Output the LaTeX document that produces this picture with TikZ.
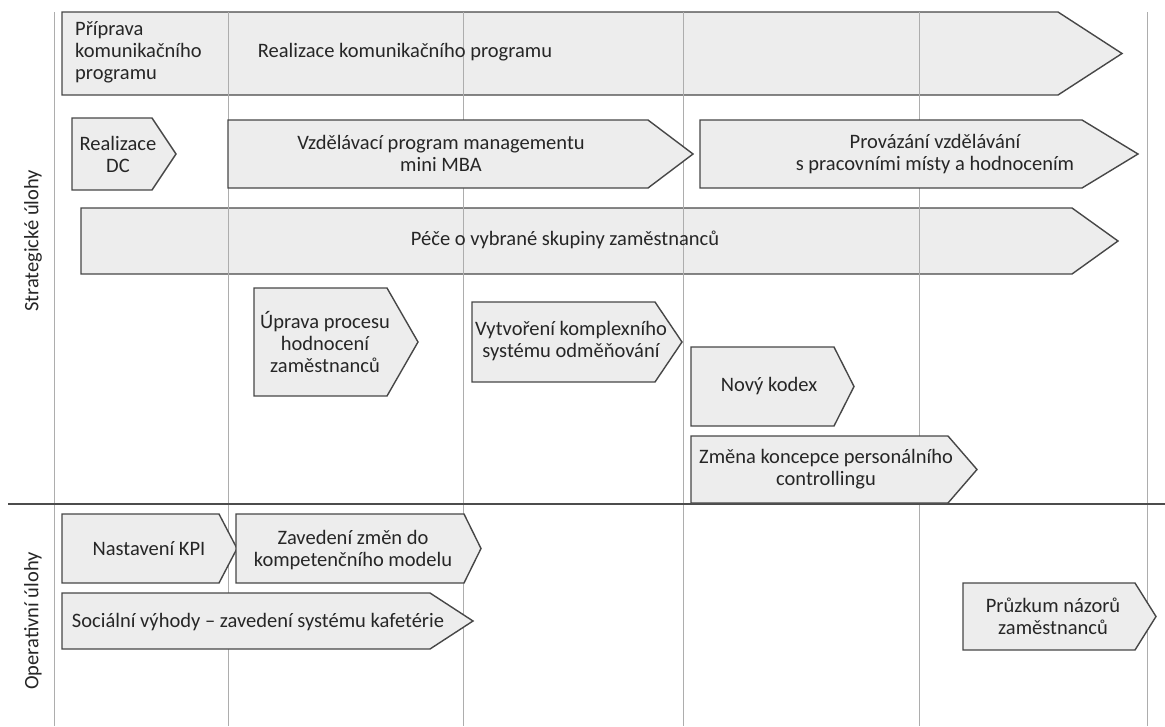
\documentclass[tikz,border=0pt]{standalone}
\usepackage{fontspec}
\setmainfont{Carlito}
\begin{document}
\begin{tikzpicture}[x=1pt,y=-1pt,
  phasebox/.style={draw=black!72,line width=1.4pt,fill=black!7,line join=miter},
  gridline/.style={draw=black!32,line width=1pt},
  divider/.style={draw=black!70,line width=1.4pt},
  phasetext/.style={text=black!85,align=center,inner sep=0pt,
    font=\fontsize{20.5}{22}\selectfont},
  lanetext/.style={text=black!85,rotate=90,inner sep=0pt,
    font=\fontsize{20.5}{22}\selectfont}]
\useasboundingbox (0,0) rectangle (1165,726);
\fill[white] (0,0) rectangle (1165,726);
% chevron: left x, top y, bottom y, shoulder x, tip x
\newcommand\chevbar[5]{%
  \draw[phasebox] (#1,#2) -- (#4,#2) -- (#5,{(#2+#3)/2}) -- (#4,#3) -- (#1,#3) -- cycle;}

% long bars lie under the time grid
\chevbar{62}{12}{95}{1058}{1122}
\chevbar{81}{208}{274}{1072}{1118}

% time grid
\foreach \gx in {54,228,463,683,919,1147}
  \draw[gridline] (\gx,12) -- (\gx,726);
\draw[divider] (8,504) -- (1165,504);

% strategic tasks
\chevbar{72}{118}{190}{152}{176}
\chevbar{228}{120}{188}{648}{693}
\chevbar{700}{120}{188}{1082}{1138}
\chevbar{254}{288}{396}{387}{418}
\chevbar{472}{302}{382}{655}{682}
\chevbar{691}{347}{426}{834}{854}
\chevbar{691}{436}{503}{948}{977}

% operative tasks
\chevbar{62}{514}{583}{219}{237}
\chevbar{236}{514}{583}{464}{481}
\chevbar{62}{593}{649}{430}{473}
\chevbar{963}{583}{650}{1135}{1156}

% labels
\node[phasetext,align=left,anchor=west] (prip) at (75,52) {Příprava\\komunikačního\\programu};
\node[phasetext] (real) at (405,52) {Realizace komunikačního programu};
\node[phasetext] (dc) at (118,154) {Realizace\\DC};
\node[phasetext] (mba) at (441,153) {Vzdělávací program managementu\\mini MBA};
\node[phasetext] (prov) at (935,154) {Provázání vzdělávání\\s pracovními místy a hodnocením};
\node[phasetext] (pece) at (565,240) {Péče o vybrané skupiny zaměstnanců};
\node[phasetext] (uprava) at (325,342) {Úprava procesu\\hodnocení\\zaměstnanců};
\node[phasetext] (odmen) at (571,341) {Vytvoření komplexního\\systému odměňování};
\node[phasetext] (kodex) at (769,386) {Nový kodex};
\node[phasetext] (contr) at (826,469) {Změna koncepce personálního\\controllingu};
\node[phasetext] (kpi) at (149,549) {Nastavení KPI};
\node[phasetext] (komp) at (353,550) {Zavedení změn do\\kompetenčního modelu};
\node[phasetext] (kafe) at (258,622) {Sociální výhody – zavedení systému kafetérie};
\node[phasetext] (pruz) at (1053,616) {Průzkum názorů\\zaměstnanců};

\node[lanetext] (strat) at (33,241) {Strategické úlohy};
\node[lanetext] (oper) at (33,621) {Operativní úlohy};
\end{tikzpicture}
\end{document}
